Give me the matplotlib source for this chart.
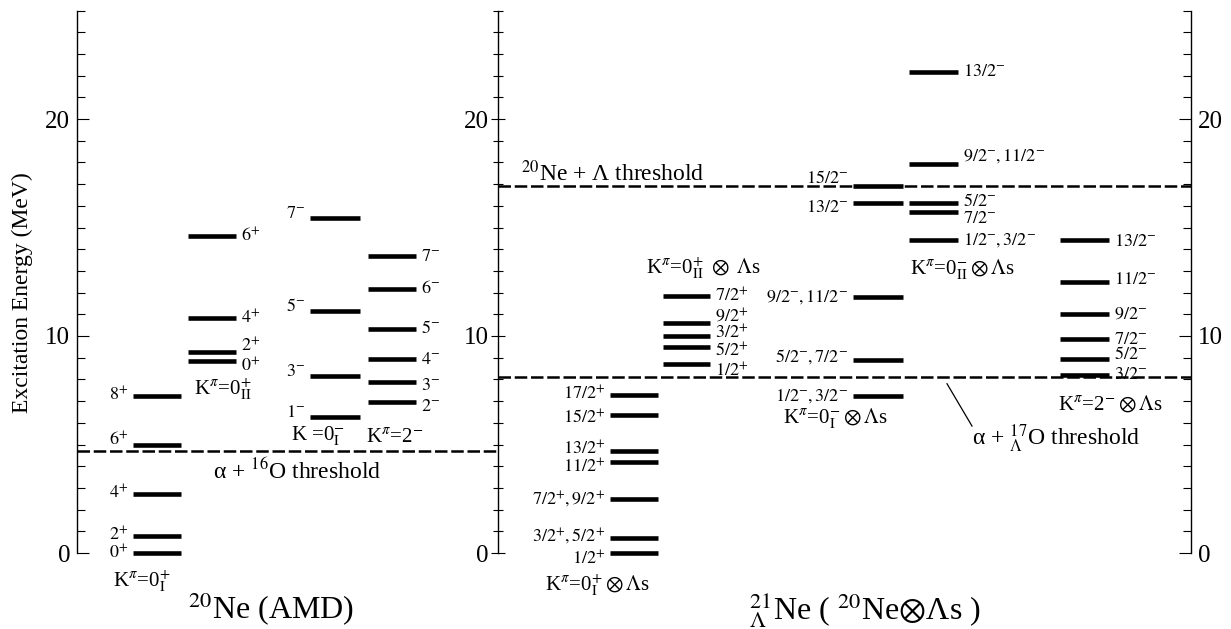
import matplotlib.pyplot as plt

plt.rcParams["font.family"] = ["Liberation Serif", "DejaVu Serif"]
plt.rcParams["mathtext.fontset"] = "stix"

# ---- level energies (MeV) and spin-parity labels ----
# 20Ne (AMD)
k0p1_E = [0.0, 0.78, 2.70, 4.96, 7.22]
k0p1_J = ["0^{+}", "2^{+}", "4^{+}", "6^{+}", "8^{+}"]
k0p2_E = [8.83, 9.24, 10.83, 14.6]
k0p2_J = ["0^{+}", "2^{+}", "4^{+}", "6^{+}"]
k0m1_E = [6.28, 8.16, 11.17, 15.44]
k0m1_J = ["1^{-}", "3^{-}", "5^{-}", "7^{-}"]
k2m_E = [6.94, 7.89, 8.92, 10.31, 12.18, 13.68]
k2m_J = ["2^{-}", "3^{-}", "4^{-}", "5^{-}", "6^{-}", "7^{-}"]

# 21_Lambda Ne (20Ne x Lambda s)
hk0p1_E = [0.0, 0.68, 2.47, 4.21, 4.72, 6.37, 7.28]
hk0p1_J = ["1/2^{+}", "3/2^{+}, 5/2^{+}", "7/2^{+}, 9/2^{+}", "11/2^{+}",
           "13/2^{+}", "15/2^{+}", "17/2^{+}"]
hk0p2_E = [8.69, 9.48, 10.0, 10.58, 11.84]
hk0p2_J = ["1/2^{+}", "5/2^{+}", "3/2^{+}", "9/2^{+}", "7/2^{+}"]
hk0m1_E = [7.22, 8.89, 11.81, 16.14, 16.93]
hk0m1_J = ["1/2^{-}, 3/2^{-}", "5/2^{-}, 7/2^{-}", "9/2^{-}, 11/2^{-}",
           "13/2^{-}", "15/2^{-}"]
hk0m2_E = [14.42, 15.73, 16.13, 17.93, 22.18]
hk0m2_J = ["1/2^{-}, 3/2^{-}", "7/2^{-}", "5/2^{-}", "9/2^{-}, 11/2^{-}",
           "13/2^{-}"]
hk2m_E = [8.18, 8.93, 9.86, 11.01, 12.5, 14.42]
hk2m_J = ["3/2^{-}", "5/2^{-}", "7/2^{-}", "9/2^{-}", "11/2^{-}", "13/2^{-}"]

# thresholds (MeV)
thr_E = [4.72, 8.1, 16.9]

# ---- layout (x in figure pixels) ----
# (energies, labels, x0, x1, label side, label nudges)
columns = [
    (k0p1_E, k0p1_J, 133, 181, "left", [0, 0.05, 0.05, 0.25, 0.05]),
    (k0p2_E, k0p2_J, 188, 236, "right", [-0.22, 0.27, 0, 0]),
    (k0m1_E, k0m1_J, 310, 360, "left", [0.2, 0.2, 0.2, 0.2]),
    (k2m_E, k2m_J, 368, 416, "right", [-0.2, -0.15, 0, 0.05, 0, 0]),
    (hk0p1_E, hk0p1_J, 610, 658, "left", [-0.3, 0.05, 0, -0.25, 0.05, -0.17, 0.05]),
    (hk0p2_E, hk0p2_J, 663, 710, "right", [-0.3, -0.16, 0.15, 0.32, 0]),
    (hk0m1_E, hk0m1_J, 853, 903, "left", [0, 0.15, 0, -0.23, 0.34]),
    (hk0m2_E, hk0m2_J, 909, 958, "right", [0, -0.32, 0.07, 0.34, 0]),
    (hk2m_E, hk2m_J, 1060, 1109, "right", [0.05, 0.22, 0, 0, 0.1, -0.05]),
]
thr_x = [(77, 498), (498, 1191), (498, 1191)]

band_labels = [
    (r"K$^{\pi}$=0$^{+}_{\rm I}$", 142, -1.32),
    (r"K$^{\pi}$=0$^{+}_{\rm II}$", 223, 7.55),
    (r"K =0$^{-}_{\rm I}$", 318, 5.36),
    (r"K$^{\pi}$=2$^{-}$", 395, 5.3),
    (r"K$^{\pi}$=0$^{+}_{\rm I}\otimes\Lambda$s", 597, -1.47),
    (r"K$^{\pi}$=0$^{+}_{\rm II}\ \otimes\ \Lambda$s", 703, 13.12),
    (r"K$^{\pi}$=0$^{-}_{\rm I}\otimes\Lambda$s", 835, 6.2),
    (r"K$^{\pi}$=0$^{-}_{\rm II}\otimes\Lambda$s", 962, 13.04),
    (r"K$^{\pi}$=2$^{-}\otimes\Lambda$s", 1110, 6.85),
]

W, H = 1231, 629
fig = plt.figure(figsize=(W / 100, H / 100), dpi=100)
y0_px, y25_px = 553, 10.5
bottom = (H - y0_px) / H
height = (y0_px - y25_px) / H
ax = fig.add_axes([77 / W, bottom, (1191 - 77) / W, height])
ax.set_xlim(77, 1191)
ax.set_ylim(0, 25)

for s in ["top", "bottom"]:
    ax.spines[s].set_visible(False)
for s in ["left", "right"]:
    ax.spines[s].set_linewidth(1.0)
ax.set_xticks([])
ax.set_yticks([0, 10, 20])
ax.set_yticks(range(0, 26), minor=True)
ax.tick_params(axis="y", which="both", direction="in", left=True, right=True,
               labelleft=True, labelright=True, width=0.8, labelsize=18)
ax.tick_params(axis="y", which="major", length=8.5, pad=5)
ax.tick_params(axis="y", which="minor", length=5.8)

# middle axis
ax2 = fig.add_axes([498 / W, bottom, 0.0005, height])
ax2.set_ylim(0, 25)
ax2.patch.set_alpha(0)
for s in ["top", "bottom", "right"]:
    ax2.spines[s].set_visible(False)
ax2.spines["left"].set_linewidth(1.0)
ax2.set_xticks([])
ax2.set_yticks([0, 10, 20])
ax2.set_yticks(range(0, 26), minor=True)
ax2.tick_params(axis="y", which="both", direction="inout", width=0.8, labelsize=18)
ax2.tick_params(axis="y", which="major", length=9.5, pad=2)
ax2.tick_params(axis="y", which="minor", length=6.5)

# thresholds
for e, (xa, xb) in zip(thr_E, thr_x):
    ax.hlines(e, xa, xb, colors="black", lw=1.8, linestyles=(0, (5, 1.5)), zorder=2)

# levels
for E, J, x0, x1, side, dys in columns:
    ax.hlines(E, x0, x1, colors="black", lw=3.3, zorder=3, clip_on=False)
    for e, j, dy in zip(E, J, dys):
        if side == "left":
            ax.text(x0 - 5, e + dy, "$" + j + "$", ha="right", va="center", fontsize=13)
        else:
            ax.text(x1 + 5, e + dy, "$" + j + "$", ha="left", va="center", fontsize=13)

for txt, x, y in band_labels:
    ax.text(x, y, txt, ha="center", va="center", fontsize=15)

# threshold labels
ax.text(297, 3.75, r"α + $^{16}$O threshold", ha="center", va="center", fontsize=17)
ax.text(613, 17.5, r"$^{20}$Ne + Λ threshold", ha="center", va="center", fontsize=17)
ax.text(1056, 5.28, r"α + $^{17}_{\Lambda}$O threshold", ha="center", va="center", fontsize=17)
ax.plot([947, 972], [7.8, 5.85], color="black", lw=0.9)

# bottom titles and axis label
ax.text(271, -3.05, r"$^{20}$Ne (AMD)", ha="center", va="baseline", fontsize=23)
ax.text(865, -3.05, r"$^{21}_{\Lambda}$Ne ( $^{20}$Ne$\otimes$Λs )", ha="center",
        va="baseline", fontsize=23)
ax.text(22, 12, "Excitation Energy (MeV)", rotation=90, ha="center", va="center",
        fontsize=17)

fig.savefig("out.png", dpi=100)
